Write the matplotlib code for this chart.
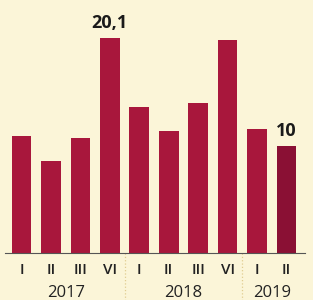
import matplotlib
matplotlib.use("Agg")
import matplotlib.pyplot as plt

# quarterly values
quarters = ["I", "II", "III", "VI", "I", "II", "III", "VI", "I", "II"]
values = [10.9, 8.6, 10.7, 20.1, 13.6, 11.4, 14.0, 19.9, 11.6, 10.0]
years = ["2017", "2018", "2019"]
year_spans = [(0, 3), (4, 7), (8, 9)]
labelled = {3: "20,1", 9: "10"}

bg = "#fbf5d8"
bar_color = "#a8173c"
last_color = "#8a1034"

plt.rcParams["font.family"] = ["Open Sans", "DejaVu Sans"]

fig = plt.figure(figsize=(3.13, 3.0), dpi=100, facecolor=bg)
ax = fig.add_axes([5 / 313, 47 / 300, 300 / 313, 253 / 300])
ax.set_facecolor(bg)

x = list(range(len(values)))
colors = [bar_color] * (len(values) - 1) + [last_color]
ax.bar(x, values, width=0.67, color=colors, edgecolor="none")

for i, txt in labelled.items():
    ax.text(i, values[i] + 0.55, txt, ha="center", va="bottom",
            fontsize=13, fontweight="bold", color="#1a1a1a")

ax.set_xlim(-0.56, 9.63)
ax.set_ylim(0, 23.6)
for s in ["top", "right", "left"]:
    ax.spines[s].set_visible(False)
ax.spines["bottom"].set_color("#555555")
ax.spines["bottom"].set_linewidth(0.8)
ax.set_yticks([])
ax.set_xticks(x)
ax.set_xticklabels(quarters, fontsize=11, color="#222222", fontweight="semibold")
ax.tick_params(axis="x", length=0, pad=7.5)

for (a, b), yr in zip(year_spans, years):
    ax.text((a + b) / 2, -0.16, yr, transform=ax.get_xaxis_transform(),
            ha="center", va="center", fontsize=12, color="#222222")

# dotted separators between years
for sep in [3.5, 7.5]:
    ax.plot([sep, sep], [0, -0.19], transform=ax.get_xaxis_transform(),
            color="#e0cc90", linestyle=":", linewidth=0.9, clip_on=False)

fig.savefig("out.png", dpi=100, facecolor=bg)
